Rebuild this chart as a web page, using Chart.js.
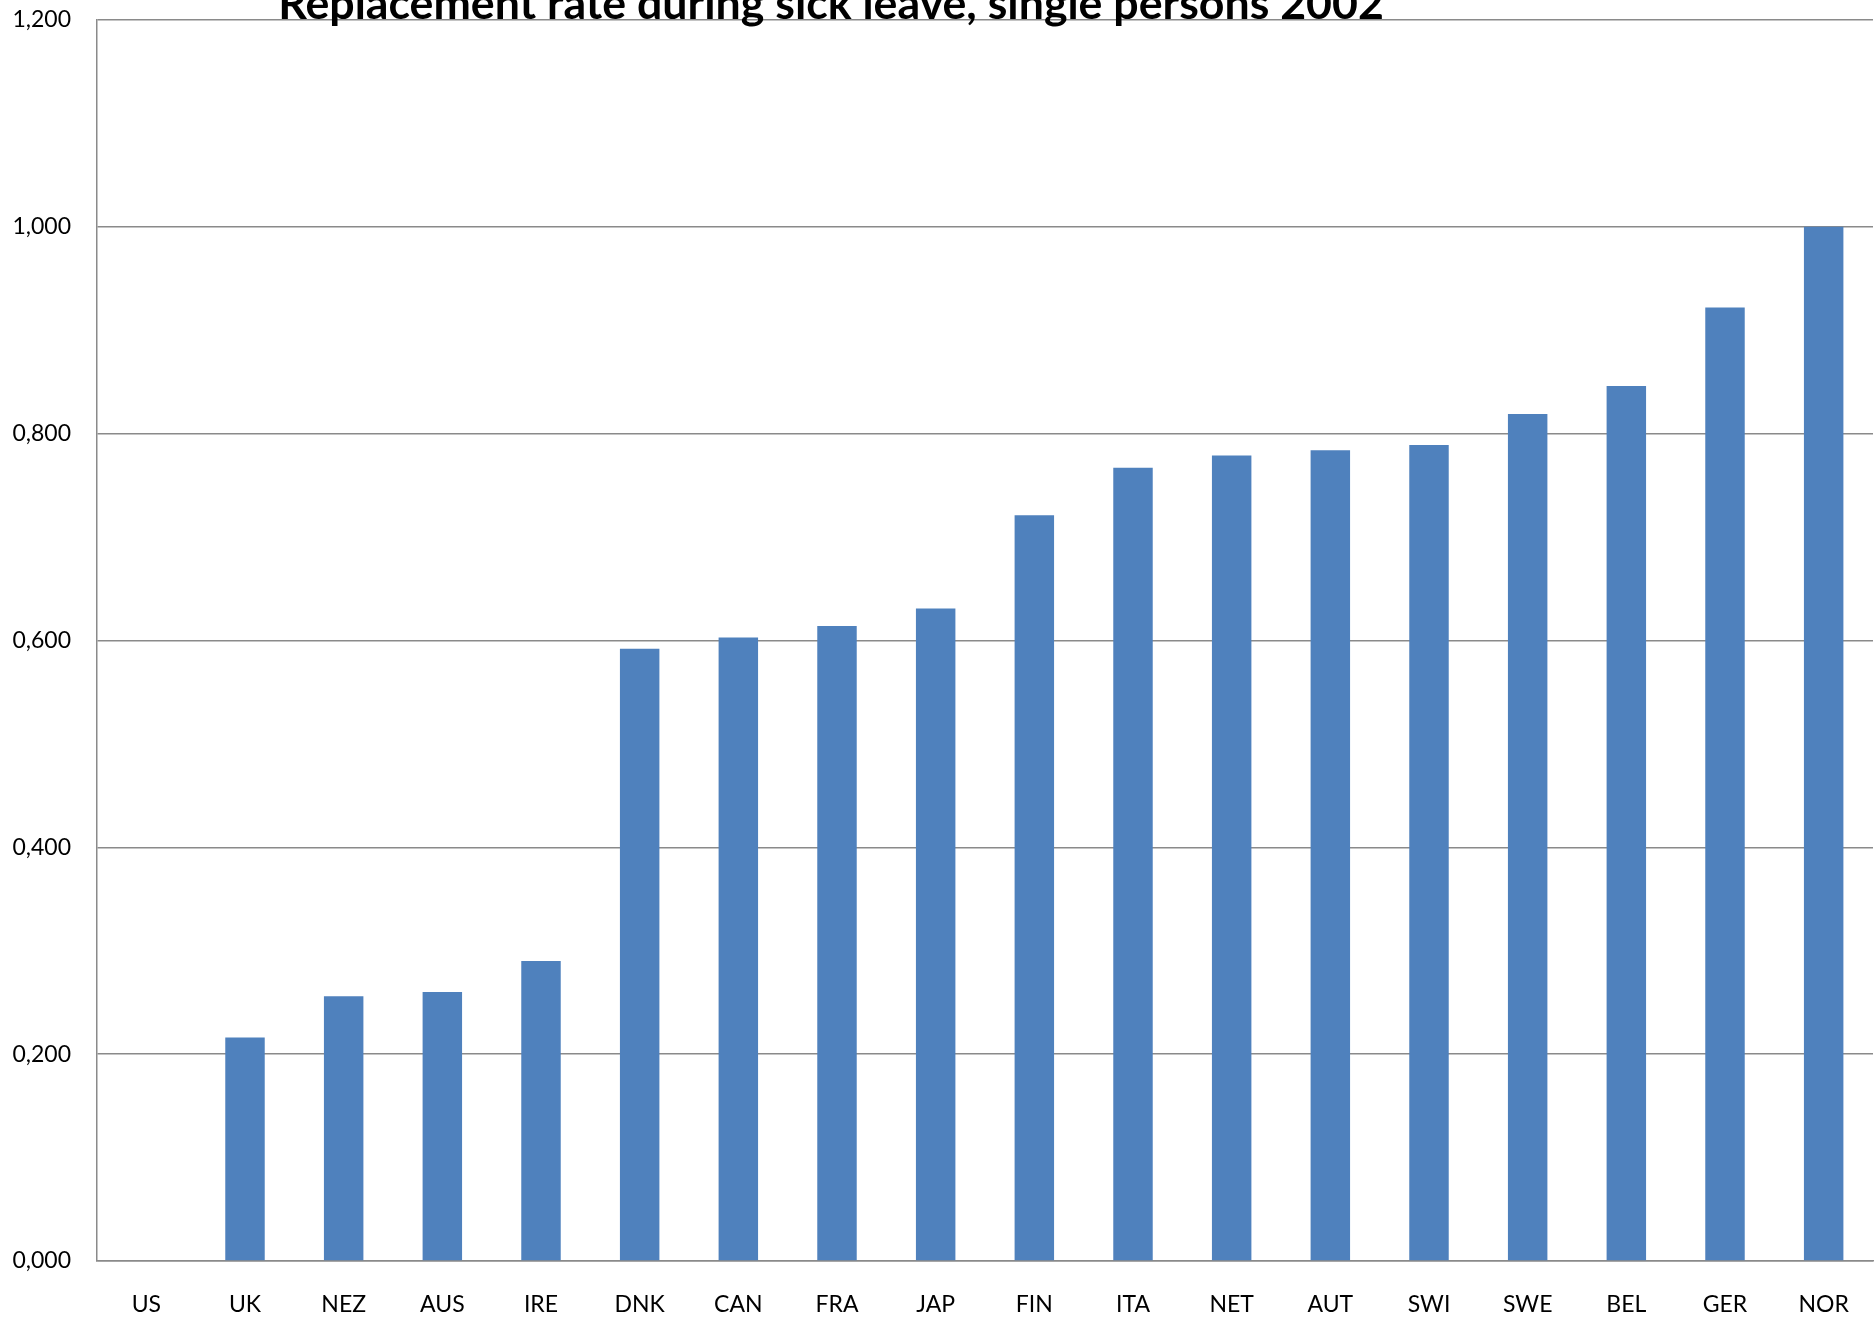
<!DOCTYPE html>
<html>
<head>
<meta charset="utf-8">
<title>Replacement rate during sick leave, single persons 2002</title>
<script src="https://cdn.jsdelivr.net/npm/chart.js@4/dist/chart.umd.min.js"></script>
<style>
  html, body { margin: 0; padding: 0; background: #ffffff; }
  #wrap { position: relative; width: 1874px; height: 1319px; }
</style>
</head>
<body>
<div id="wrap"><canvas id="chart"></canvas></div>
<script>
// Countries, ordered by replacement rate
const countries = ['US', 'UK', 'NEZ', 'AUS', 'IRE', 'DNK', 'CAN', 'FRA', 'JAP',
  'FIN', 'ITA', 'NET', 'AUT', 'SWI', 'SWE', 'BEL', 'GER', 'NOR'];

// Replacement rate during sick leave (single persons, 2002)
const replacementRates = [0.000, 0.216, 0.256, 0.260, 0.290, 0.592, 0.603, 0.614, 0.631,
  0.721, 0.767, 0.779, 0.784, 0.789, 0.819, 0.846, 0.922, 1.000];

// Value axis
const yMin = 0;
const yMax = 1.2;
const yStep = 0.2;

const titleText = 'Replacement rate during sick leave, single persons 2002';

const fontFamily = 'Lato, "Open Sans", "DejaVu Sans", sans-serif';

// Title sits partly above the top edge of the canvas; its size is chosen
// so that the line spans the intended width.
const titlePlugin = {
  id: 'topTitle',
  afterDraw(chart) {
    const ctx = chart.ctx;
    const targetWidth = 1106;
    ctx.save();
    ctx.font = 'bold 40px ' + fontFamily;
    const w = ctx.measureText(titleText).width;
    const size = 40 * targetWidth / w;
    ctx.font = 'bold ' + size.toFixed(2) + 'px ' + fontFamily;
    ctx.fillStyle = '#000000';
    ctx.textAlign = 'center';
    ctx.textBaseline = 'alphabetic';
    ctx.fillText(titleText, 831, 19);
    ctx.restore();
  }
};

const gridColor = '#8a8a8a';

new Chart(document.getElementById('chart'), {
  type: 'bar',
  data: {
    labels: countries,
    datasets: [{
      data: replacementRates,
      backgroundColor: '#4F81BD',
      borderWidth: 0,
      categoryPercentage: 1.0,
      barPercentage: 0.4
    }]
  },
  options: {
    responsive: true,
    maintainAspectRatio: false,
    animation: false,
    layout: { padding: { top: 20, right: 1, left: 0, bottom: 0 } },
    plugins: {
      legend: { display: false },
      tooltip: { enabled: false },
      title: { display: false }
    },
    scales: {
      x: {
        grid: { display: false, drawTicks: false },
        border: { display: true, color: gridColor, width: 1.5 },
        ticks: {
          color: '#000000',
          padding: 30,
          font: { family: fontFamily, size: 23 },
          maxRotation: 0,
          autoSkip: false
        },
        afterFit(scale) {
          scale.height = 58;
          scale.paddingLeft = 0;
          scale.paddingRight = 0;
        }
      },
      y: {
        min: yMin,
        max: yMax,
        grid: { color: gridColor, lineWidth: 1.5, drawTicks: false },
        border: { display: true, color: gridColor, width: 1.5 },
        ticks: {
          stepSize: yStep,
          color: '#000000',
          padding: 26,
          font: { family: fontFamily, size: 23 },
          callback: (v) => Number(v).toFixed(3).replace('.', ',')
        },
        afterFit(scale) {
          scale.width = 97;
          scale.paddingTop = 0;
          scale.paddingBottom = 0;
        }
      }
    }
  },
  plugins: [titlePlugin]
});
</script>
</body>
</html>
